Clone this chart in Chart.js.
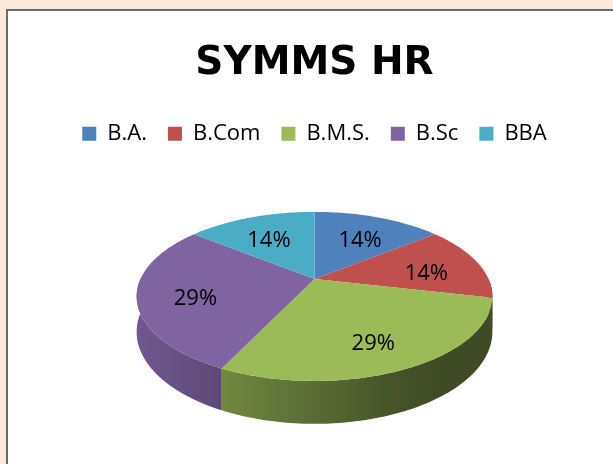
<!DOCTYPE html>
<html>
<head>
<meta charset="utf-8">
<script src="https://cdn.jsdelivr.net/npm/chart.js@4"></script>
<style>
    html, body { margin: 0; padding: 0; }
    body { width: 613px; height: 464px; background: #fde9d9; overflow: hidden; position: relative; }
    #frame { position: absolute; left: 6px; top: 9px; width: 640px; height: 480px; background: #fff; border-left: 2px solid #6b6b6b; border-top: 2px solid #6b6b6b; }
    #wrap { position: absolute; left: 0; top: 0; width: 613px; height: 464px; }
</style>
</head>
<body>
<div id="frame"></div>
<div id="wrap"><canvas id="myChart"></canvas></div>
<script>
// ═══════════════════════════════════════
//  DATA
// ═══════════════════════════════════════
const chartTitle = 'SYMMS HR';
const categories = ['B.A.', 'B.Com', 'B.M.S.', 'B.Sc', 'BBA'];
const values = [1, 1, 2, 2, 1];
const colors = ['#4F81BD', '#C0504D', '#9BBB59', '#8064A2', '#4BACC6'];

// look of the 3D disc
const TILT = 0.465;    // vertical squash of the top face
const PERSP = 0.207;   // perspective: far side smaller
const DEPTH = 34;      // thickness of the side wall
const LABEL_POS = 0.68;
const LABEL_DROP = 7;

function shade(hex, f) {
    const n = parseInt(hex.slice(1), 16);
    const r = Math.round(((n >> 16) & 255) * f);
    const g = Math.round(((n >> 8) & 255) * f);
    const b = Math.round((n & 255) * f);
    return `rgb(${r},${g},${b})`;
}

// angle (chart.js convention) -> screen point on the tilted disc
function project(arc, ang, f, drop) {
    const X = Math.cos(ang) * f;
    const Y = -Math.sin(ang) * f;       // + = far side
    const w = 1 + PERSP * Y;
    return {
        x: arc.x + arc.outerRadius * X / w,
        y: arc.y - arc.outerRadius * TILT * Y / w + drop / w
    };
}

function edge(ctx, arc, a0, a1, drop, first) {
    const steps = Math.max(2, Math.ceil(Math.abs(a1 - a0) / 0.02));
    for (let i = 0; i <= steps; i++) {
        const p = project(arc, a0 + (a1 - a0) * i / steps, 1, drop);
        if (i === 0 && first) ctx.moveTo(p.x, p.y); else ctx.lineTo(p.x, p.y);
    }
}

const pie3d = {
    id: 'pie3d',
    beforeDatasetDraw() { return false; },
    afterDatasetsDraw(chart) {
        const ctx = chart.ctx;
        const meta = chart.getDatasetMeta(0);
        const ds = chart.data.datasets[0];
        const total = ds.data.reduce((a, b) => a + b, 0);
        ctx.save();

        // side walls (front half only)
        meta.data.forEach((arc, i) => {
            const a0 = Math.max(arc.startAngle, 0);
            const a1 = Math.min(arc.endAngle, Math.PI);
            if (a1 <= a0) return;
            const R = arc.outerRadius * 1.03;
            const grad = ctx.createLinearGradient(arc.x - R, 0, arc.x + R, 0);
            const base = ds.backgroundColor[i];
            grad.addColorStop(0, shade(base, 0.88));
            grad.addColorStop(0.25, shade(base, 0.72));
            grad.addColorStop(0.7, shade(base, 0.46));
            grad.addColorStop(0.85, shade(base, 0.4));
            grad.addColorStop(1, shade(base, 0.4));
            ctx.beginPath();
            edge(ctx, arc, a0, a1, 0, true);
            edge(ctx, arc, a1, a0, DEPTH, false);
            ctx.closePath();
            ctx.fillStyle = grad;
            ctx.fill();
        });

        // top face
        meta.data.forEach((arc, i) => {
            ctx.beginPath();
            ctx.moveTo(arc.x, arc.y);
            edge(ctx, arc, arc.startAngle, arc.endAngle, 0, false);
            ctx.closePath();
            ctx.fillStyle = ds.backgroundColor[i];
            ctx.fill();
        });

        // percentage labels
        ctx.fillStyle = '#000';
        ctx.font = '22px "Open Sans"';
        ctx.textAlign = 'center';
        ctx.textBaseline = 'middle';
        meta.data.forEach((arc, i) => {
            const mid = (arc.startAngle + arc.endAngle) / 2;
            const p = project(arc, mid, LABEL_POS, LABEL_DROP);
            ctx.fillText(Math.round(ds.data[i] / total * 100) + '%', p.x, p.y);
        });
        ctx.restore();
    }
};

Chart.defaults.font.family = '"Open Sans", sans-serif';
Chart.defaults.color = '#000';

const chart = new Chart(document.getElementById('myChart'), {
    type: 'pie',
    data: {
        labels: categories,
        datasets: [{
            data: values,
            backgroundColor: colors,
            borderWidth: 0,
            radius: 174
        }]
    },
    options: {
        responsive: true,
        maintainAspectRatio: false,
        animation: false,
        layout: { padding: { left: 16, right: 0, top: 0, bottom: 61 } },
        plugins: {
            title: {
                display: true,
                text: chartTitle,
                color: '#000',
                font: { family: '"DejaVu Sans"', size: 39, weight: 'bold' },
                padding: { top: 40, bottom: 15 }
            },
            legend: {
                position: 'top',
                labels: { boxWidth: 14, boxHeight: 14, padding: 21, font: { size: 22 }, color: '#000' }
            },
            tooltip: { enabled: false }
        }
    },
    plugins: [pie3d]
});
</script>
</body>
</html>
